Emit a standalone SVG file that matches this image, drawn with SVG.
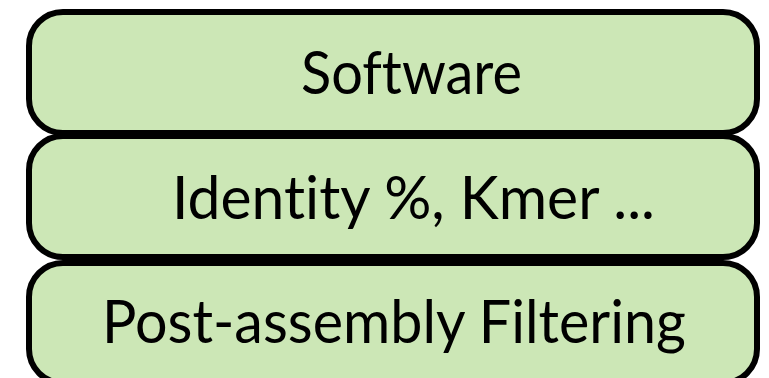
<svg xmlns="http://www.w3.org/2000/svg" width="769" height="378" viewBox="0 0 769 378">
<style>
.box{fill:#cce7b6;stroke:#000;stroke-width:6}
.lbl{font-family:Lato,"Open Sans","Liberation Sans",sans-serif;font-size:60px;fill:#000;font-variant-ligatures:none;font-feature-settings:"liga" 0,"clig" 0}
</style>
<rect width="769" height="378" fill="#fff"/>
<g id="node-software">
<rect class="box" x="29" y="12" width="728" height="121" rx="34" ry="34"/>
<text class="lbl" x="301" y="94" textLength="221" lengthAdjust="spacingAndGlyphs">Software</text>
</g>
<g id="node-identity">
<rect class="box" x="29" y="136" width="728" height="121" rx="34" ry="34"/>
<text class="lbl" x="172" y="219" textLength="483" lengthAdjust="spacingAndGlyphs">Identity %, Kmer ...</text>
</g>
<g id="node-filtering">
<rect class="box" x="29" y="263" width="728" height="120" rx="34" ry="34"/>
<text class="lbl" x="102" y="343" textLength="584" lengthAdjust="spacingAndGlyphs">Post-assembly Filtering</text>
</g>
<g id="connectors"/>
</svg>
